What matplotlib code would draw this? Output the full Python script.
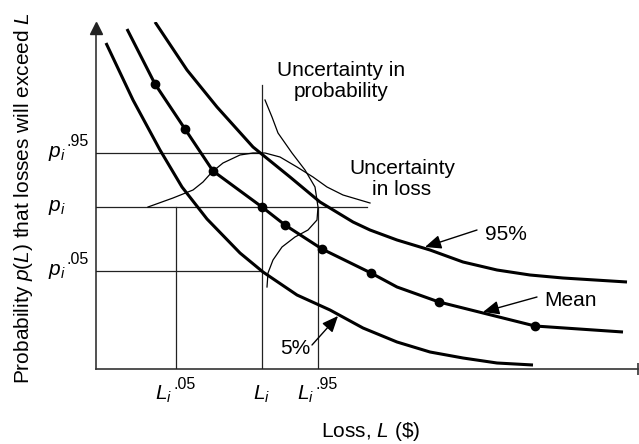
import matplotlib
matplotlib.use('Agg')
import matplotlib.pyplot as plt

plt.rcParams['font.family'] = ['Liberation Sans', 'DejaVu Sans']
plt.rcParams['mathtext.fontset'] = 'custom'
plt.rcParams['mathtext.rm'] = 'Liberation Sans'
plt.rcParams['mathtext.it'] = 'Liberation Sans:italic'

# exceedance curves (loss, probability), arbitrary units
low_L = [10, 37, 64, 86, 111, 144, 167, 201, 234, 267, 301, 334, 367, 401, 437]
low_p = [326, 269, 219, 182, 150, 116, 97, 74, 59, 41, 27, 17, 11, 6, 4]

mean_L = [31, 59, 89, 117, 166, 189, 226, 275, 301, 343, 387, 439, 527]
mean_p = [340, 285, 240, 198, 162, 144, 120, 96, 82, 67, 56, 43, 37]

high_L = [59, 91, 121, 157, 194, 224, 257, 274, 301, 334, 367, 401, 434, 467, 531]
high_p = [347, 299, 262, 222, 192, 167, 147, 139, 129, 119, 107, 99, 94, 91, 87]

# data points on the mean curve
pts_L = [59, 89, 117, 166, 189, 226, 275, 343, 439]
pts_p = [285, 240, 198, 162, 144, 120, 96, 67, 43]

# uncertainty in loss (bell on the p_i line)
bell_loss_L = [52, 77, 97, 107, 116, 127, 144, 157, 169, 184, 201, 217, 231, 247, 274]
bell_loss_p = [162, 171, 179, 187, 197, 206, 214, 216, 216, 212, 202, 192, 182, 174, 166]

# uncertainty in probability (bell on the L_i line)
bell_prob_L = [169, 176, 182, 196, 209, 219, 222, 221, 212, 199, 186, 177, 172, 171]
bell_prob_p = [269, 252, 236, 216, 199, 182, 162, 149, 139, 132, 122, 109, 96, 82]

L05, Li, L95 = 80, 166, 222
p05, pi, p95 = 98, 162, 216

fig = plt.figure(figsize=(6.39, 4.44), dpi=100)
ax = fig.add_axes([96/639, 75/444, 542/639, 347/444])
ax.set_xlim(0, 542)
ax.set_ylim(0, 347)
ax.set_axis_off()

# axes with arrow on top and bar on the right end
ax.plot([0, 0], [0, 338], color='#333333', lw=1.2, clip_on=False)
ax.plot([0, 542], [0, 0], color='#333333', lw=1.2, clip_on=False)
ax.plot(0, 341, marker='^', ms=8, color='#222222', clip_on=False)
ax.plot(542, 0, marker='|', ms=8, mew=1.2, color='#333333', clip_on=False)

thin = dict(color='#222222', lw=0.9)
ax.plot([0, Li], [p95, p95], **thin)
ax.plot([0, 271], [pi, pi], **thin)
ax.plot([0, Li], [p05, p05], **thin)
ax.plot([L05, L05], [0, pi], **thin)
ax.plot([Li, Li], [0, 284], **thin)
ax.plot([L95, L95], [0, pi], **thin)

ax.plot(bell_loss_L, bell_loss_p, color='black', lw=0.9)
ax.plot(bell_prob_L, bell_prob_p, color='black', lw=0.9)

thick = dict(color='black', lw=2.2, solid_capstyle='butt', solid_joinstyle='round')
ax.plot(low_L, low_p, **thick)
ax.plot(mean_L, mean_p, **thick)
ax.plot(high_L, high_p, **thick)
ax.plot(pts_L, pts_p, 'o', color='black', ms=6)

arw = dict(arrowstyle='-|>,head_length=0.7,head_width=0.3', color='black',
           lw=1.0, mutation_scale=14, shrinkA=0, shrinkB=0)
ax.annotate('', xy=(329, 122), xytext=(381, 139), arrowprops=arw)
ax.annotate('', xy=(387, 57), xytext=(441, 72), arrowprops=arw)
ax.annotate('', xy=(242, 53), xytext=(216, 24), arrowprops=arw)

fs = 15
ax.text(389, 135, '95%', fontsize=fs, ha='left', va='center')
ax.text(448, 69, 'Mean', fontsize=fs, ha='left', va='center')
ax.text(199, 21, '5%', fontsize=fs, ha='center', va='center')
ax.text(245, 288, 'Uncertainty in\nprobability', fontsize=fs,
        ha='center', va='center', multialignment='center', linespacing=1.1)
ax.text(306, 190, 'Uncertainty\nin loss', fontsize=fs,
        ha='center', va='center', multialignment='center', linespacing=1.1)


def sup(txt, s, dy):
    # superscript placed just right of the subscripted symbol
    ax.annotate(s, xy=(1, 1), xycoords=txt, xytext=(0.3, dy),
                textcoords='offset points', fontsize=11.5,
                ha='left', va='baseline')


t = ax.text(-48, p95, r'$p_i$', fontsize=fs, ha='left', va='center')
sup(t, '.95', -1.5)
ax.text(-48, pi, r'$p_i$', fontsize=fs, ha='left', va='center')
t = ax.text(-48, p05, r'$p_i$', fontsize=fs, ha='left', va='center')
sup(t, '.05', -1.5)

t = ax.text(L05 - 12, -25, r'$L_i$', fontsize=fs, ha='center', va='center')
sup(t, '.05', -4)
ax.text(Li, -25, r'$L_i$', fontsize=fs, ha='center', va='center')
t = ax.text(L95 - 12, -25, r'$L_i$', fontsize=fs, ha='center', va='center')
sup(t, '.95', -4)

ax.text(275, -68, r'Loss, $L$ (\$)', fontsize=fs, ha='center', va='baseline')
ax.text(-72, 171, r'Probability $p(L)$ that losses will exceed $L$', fontsize=fs,
        rotation=90, ha='center', va='center')

fig.savefig('out.png', dpi=100)
